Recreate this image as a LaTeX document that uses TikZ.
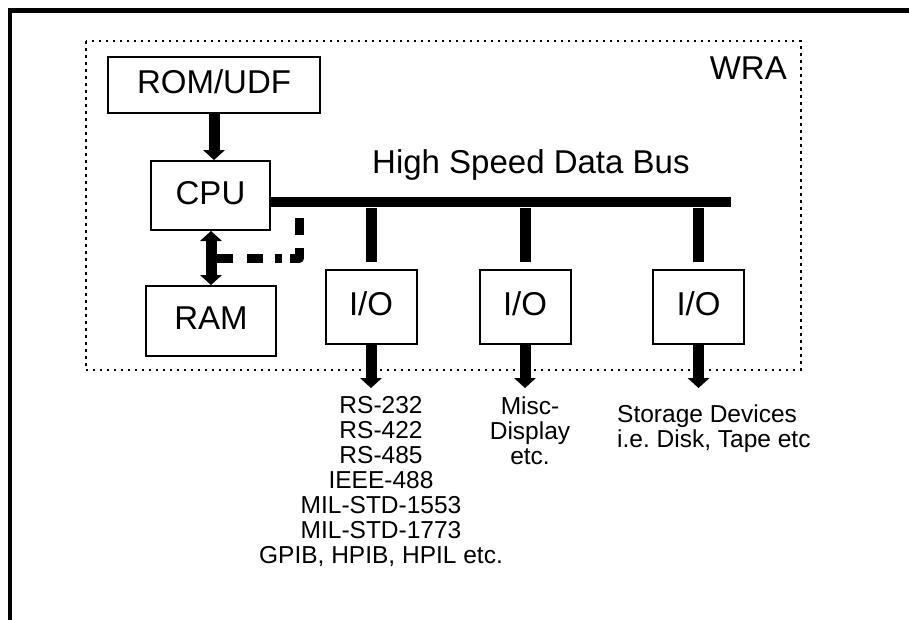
\documentclass[tikz,border=0pt]{standalone}
\usepackage{fontspec}
\setmainfont{Liberation Sans}
\usetikzlibrary{arrows.meta,calc}

\newcommand{\grand}{\fontsize{33}{38}\selectfont}
\newcommand{\petit}{\fontsize{24.5}{25}\selectfont}

\tikzset{
    bloc/.style={draw, line width=2pt, inner sep=0pt, text height=24pt, text depth=7pt, font=\grand},
    io/.style={bloc, minimum width=91pt, minimum height=74pt},
    fleche/.style={line width=11pt, -{Triangle[width=22pt, length=10pt, line width=0pt]}},
    doublefleche/.style={line width=11pt, {Triangle[width=22pt, length=10pt, line width=0pt]}-{Triangle[width=22pt, length=10pt, line width=0pt]}},
    bus/.style={line width=10pt},
    liaison/.style={line width=11pt, shorten <=6pt, shorten >=7pt},
    tiret/.style={line width=9pt, line join=round, dash pattern=on 17pt off 13pt on 20pt off 8pt on 7pt off 12pt on 16pt off 14pt on 60pt},
    liste/.style={font=\petit, align=center, inner sep=0pt}
}

\begin{document}
\begin{tikzpicture}[x=1pt, y=-1pt]
        \useasboundingbox (0,0) rectangle (909,619);

        % Cadre extérieur
        \draw[line width=4.5pt] (9.8,630) -- (9.8,10.3) -- (920,10.3);

        % Limite de la WRA en pointillés
        \draw[line width=2pt, dash pattern=on 2.5pt off 4.5pt] (85.5,41.3) rectangle (800.7,370);
        \node[anchor=base east, font=\grand, inner sep=0pt] (wra) at (787,79) {WRA};

        % Blocs
        \node[bloc, minimum width=212pt, minimum height=56pt] (rom) at (214,85) {ROM/UDF};
        \node[bloc, minimum width=119pt, minimum height=69pt] (cpu) at (210.5,195.5) {CPU};
        \node[bloc, minimum width=130pt, minimum height=70pt] (ram) at (211,321) {RAM};
        \node[io] (io1) at (371,307) {I/O};
        \node[io] (io2) at (525,307) {I/O};
        \node[io] (io3) at (698.5,307) {I/O};

        % Bus de données
        \coordinate (finbus) at (731,202);
        \draw[bus] (cpu.east |- finbus) -- (finbus);
        \node[anchor=base west, font=\grand, inner sep=0pt] (nombus) at (372,173) {High Speed Data Bus};

        % Liaisons bus - I/O
        \draw[liaison] (io1.north |- finbus) -- (io1.north);
        \draw[liaison] (io2.north |- finbus) -- (io2.north);
        \draw[liaison] (io3.north |- finbus) -- (io3.north);

        % ROM -> CPU et CPU <-> RAM
        \draw[fleche] (rom.south) -- (rom.south |- cpu.north);
        \draw[doublefleche] (ram.north) -- (ram.north |- cpu.south);

        % Trait mixte vers le bus
        \coordinate (dma) at (299.5,218);
        \draw[tiret] (dma) |- ($(cpu.south)!.5!(ram.north)$);

        % Sorties des I/O
        \coordinate (sortie) at (0,388);
        \draw[fleche] (io1.south) -- (io1.south |- sortie);
        \draw[fleche] (io2.south) -- (io2.south |- sortie);
        \draw[fleche] (io3.south) -- (io3.south |- sortie);

        % Textes des sorties (base = dernière ligne)
        \node[liste, anchor=base] (rs) at (381,563) {RS-232\\RS-422\\RS-485\\IEEE-488\\MIL-STD-1553\\MIL-STD-1773\\GPIB, HPIB, HPIL etc.};
        \node[liste, anchor=base] (misc) at (530,464) {Misc-\\Display\\etc.};
        \node[liste, anchor=base west, align=left] (stock) at (617,447.5) {Storage Devices\\i.e.\ Disk, Tape etc};
    \end{tikzpicture}
\end{document}
